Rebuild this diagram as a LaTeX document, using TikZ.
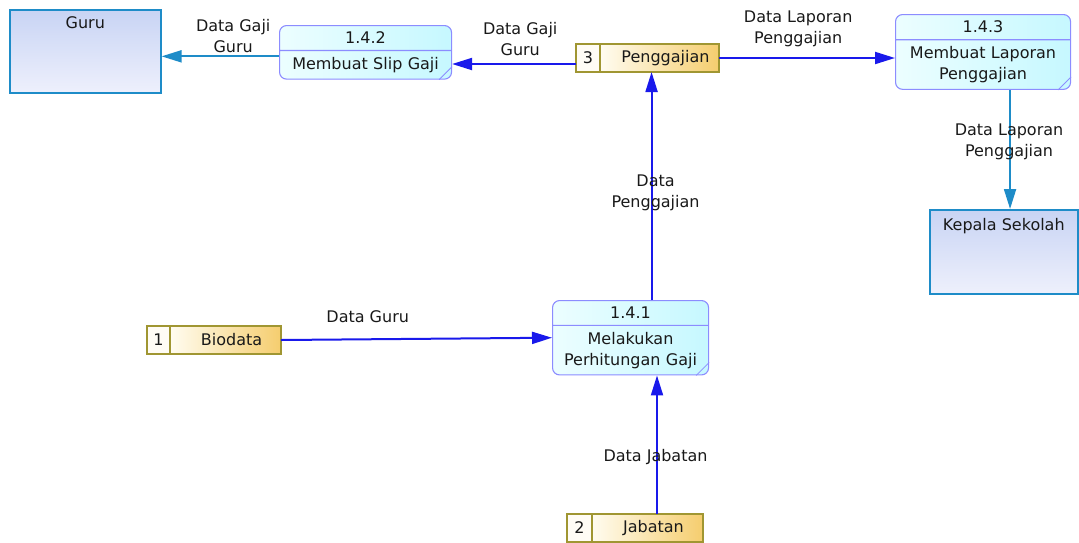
\documentclass[tikz,border=0pt]{standalone}
\usepackage{fontspec}
\setmainfont{DejaVu Sans}
\usetikzlibrary{positioning,shapes.multipart,arrows.meta}

\definecolor{txt}{RGB}{25,25,25}
\definecolor{entline}{RGB}{30,140,200}
\definecolor{entA}{RGB}{200,212,244}
\definecolor{entB}{RGB}{238,240,252}
\definecolor{procline}{RGB}{140,140,255}
\definecolor{procA}{RGB}{236,254,255}
\definecolor{procB}{RGB}{198,248,255}
\definecolor{storeline}{RGB}{160,150,50}
\definecolor{storeA}{RGB}{255,252,240}
\definecolor{storeB}{RGB}{245,205,110}
\definecolor{numfill}{RGB}{255,252,245}
\definecolor{flowblue}{RGB}{25,25,235}
\definecolor{flowcyan}{RGB}{30,140,200}

\begin{document}
\begin{tikzpicture}[x=1pt, y=-1pt,
	every node/.style={font=\fontsize{16}{21}\selectfont, text=txt},
	ent/.style={draw=entline, line width=1.6pt, top color=entA, bottom color=entB, inner ysep=6pt, anchor=north west},
	proc/.style={rectangle split, rectangle split parts=2, draw=procline, line width=1.1pt, rounded corners=7pt, left color=procA, right color=procB, align=center, inner xsep=4pt, inner ysep=6pt, anchor=north west},
	num/.style={draw=storeline, line width=1.6pt, fill=numfill, minimum width=24pt, minimum height=28pt, inner sep=0pt, outer sep=0pt, anchor=north west},
	store/.style={draw=storeline, line width=1.6pt, left color=storeA, right color=storeB, minimum height=28pt, inner sep=0pt, outer sep=0pt, execute at begin node=\hskip12pt},
	fl/.style={-{Triangle[length=20pt,width=12pt]}, draw=flowblue, line width=2pt},
	flc/.style={fl, draw=flowcyan},
	lbl/.style={align=center, inner sep=0pt}]
	\useasboundingbox (0,0) rectangle (1079,542);

	% external entities
	\node[ent, minimum width=151pt, text height=13pt, text depth=58pt] (guru) at (9,9) {Guru};
	\node[ent, minimum width=148pt, text height=15pt, text depth=57pt] (kepala) at (929,209) {Kepala Sekolah};

	% processes
	\node[proc, text width=164pt] (p2) at (279,25) {1.4.2 \nodepart{two} Membuat Slip Gaji};
	\node[proc, text width=167pt] (p3) at (895,14) {1.4.3 \nodepart{two} Membuat Laporan\\Penggajian};
	\node[proc, text width=148pt] (p1) at (552,300) {1.4.1 \nodepart{two} Melakukan\\Perhitungan Gaji};
	\foreach \n in {p1,p2,p3}
		\draw[procline, line width=0.8pt] ([xshift=-13pt]\n.south east) -- ([yshift=13pt]\n.south east);

	% data stores
	\node[num] (s3n) at (576,44) {3};
	\node[store, minimum width=119pt, right=0pt of s3n] (s3) {Penggajian};
	\node[num, minimum width=23pt] (s1n) at (147,326) {1};
	\node[store, minimum width=111pt, right=0pt of s1n] (s1) {Biodata};
	\node[num, minimum width=25pt] (s2n) at (567,514) {2};
	\node[store, minimum width=111pt, right=0pt of s2n] (s2) {Jabatan};

	% flows
	\path ([yshift=-4pt]p2.west) edge[flc] node[lbl, pos=.39, above=3pt] {Data Gaji\\Guru} ([yshift=-4pt]p2.west -| guru.east);
	\path ([yshift=-6pt]s3n.west) edge[fl] node[lbl, pos=.45, above=7pt] {Data Gaji\\Guru} ([yshift=-6pt]s3n.west -| p2.east);
	\path (s3.east) edge[fl] node[lbl, pos=.45, above=10pt] {Data Laporan\\Penggajian} (s3.east -| p3.west);
	\path ([xshift=27pt]p3.south) edge[flc] node[lbl, pos=.44, xshift=-1pt] {Data Laporan\\Penggajian} ([xshift=27pt]p3.south |- kepala.north);
	\path ([xshift=21pt]p1.north) edge[fl] node[lbl, pos=.47, xshift=4pt] {Data\\Penggajian} ([xshift=21pt]p1.north |- s3.south);
	\path (s1.east) edge[fl] node[lbl, pos=.32, above=16pt] {Data Guru} (p1.west);
	\path ([xshift=9.5pt]s2.north) edge[fl] node[lbl, pos=.41, xshift=-1.5pt] {Data Jabatan} ([xshift=9.5pt]s2.north |- p1.south);
\end{tikzpicture}
\end{document}
